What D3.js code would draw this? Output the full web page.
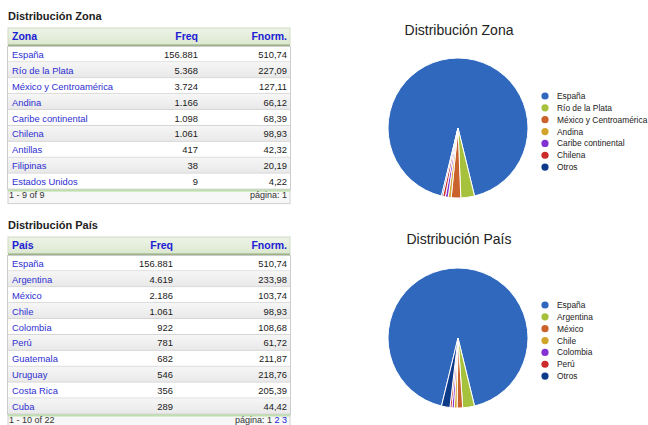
<!DOCTYPE html>
<html>
<head>
<meta charset="utf-8">
<script src="https://cdn.jsdelivr.net/npm/d3@7"></script>
<style>
  html, body { margin: 0; padding: 0; background: #fff; }
  svg { display: block; font-family: Arial, "Liberation Sans", Helvetica, sans-serif; }
</style>
</head>
<body>
<svg id="chart" width="648" height="425"></svg>
<script>
// ---- Distribución por zona ----
const zonaNames = ["España", "Río de la Plata", "México y Centroamérica", "Andina",
  "Caribe continental", "Chilena", "Antillas", "Filipinas", "Estados Unidos"];
const zonaFreq = [156881, 5368, 3724, 1166, 1098, 1061, 417, 38, 9];
const zonaFnorm = [510.74, 227.09, 127.11, 66.12, 68.39, 98.93, 42.32, 20.19, 4.22];

// ---- Distribución por país (primera página) ----
const paisNames = ["España", "Argentina", "México", "Chile", "Colombia", "Perú",
  "Guatemala", "Uruguay", "Costa Rica", "Cuba"];
const paisFreq = [156881, 4619, 2186, 1061, 922, 781, 682, 546, 356, 289];
const paisFnorm = [510.74, 233.98, 103.74, 98.93, 108.68, 61.72, 211.87, 218.76, 205.39, 44.42];

// ---- Sectores de las tartas ----
const zonaPieLabels = ["España", "Río de la Plata", "México y Centroamérica", "Andina",
  "Caribe continental", "Chilena", "Otros"];
const zonaPieValues = [156881, 5368, 3724, 1166, 1098, 1061, 464];
const paisPieLabels = ["España", "Argentina", "México", "Chile", "Colombia", "Perú", "Otros"];
const paisPieValues = [156881, 4619, 2186, 1061, 922, 781, 3312];
const pieColors = ["#3068bd", "#a6c23c", "#c9622c", "#d2a42c", "#8232d2", "#cc2b2b", "#0d3a89"];

const svg = d3.select("#chart");
const es = d3.formatLocale({ decimal: ",", thousands: ".", grouping: [3], currency: ["", "€"] });
const fmtInt = es.format(",d");
const fmtDec = es.format(",.2f");

const defs = svg.append("defs");
const hdrGrad = defs.append("linearGradient").attr("id", "hdr").attr("x1", 0).attr("x2", 0).attr("y1", 0).attr("y2", 1);
hdrGrad.append("stop").attr("offset", "0%").attr("stop-color", "#eef4e8");
hdrGrad.append("stop").attr("offset", "100%").attr("stop-color", "#dce8d0");
const oddGrad = defs.append("linearGradient").attr("id", "oddrow").attr("x1", 0).attr("x2", 0).attr("y1", 0).attr("y2", 1);
oddGrad.append("stop").attr("offset", "0%").attr("stop-color", "#f6f6f6");
oddGrad.append("stop").attr("offset", "100%").attr("stop-color", "#e8e8e8");

function drawTable(cfg) {
  const g = svg.append("g");
  const x0 = 8, x1 = 290;
  const rowH = 15.9;
  const hdrTop = cfg.top, hdrH = 16.5;
  const rowsTop = hdrTop + hdrH + 2;
  const y = d3.scaleBand().domain(d3.range(cfg.names.length))
    .range([rowsTop, rowsTop + rowH * cfg.names.length]);
  const rowsEnd = y.range()[1];

  // title
  g.append("text").attr("x", 8).attr("y", cfg.top - 8)
    .attr("font-size", 11).attr("font-weight", "bold").attr("fill", "#222")
    .text(cfg.title);

  // header
  g.append("rect").attr("x", x0).attr("y", hdrTop).attr("width", x1 - x0).attr("height", hdrH)
    .attr("fill", "url(#hdr)").attr("stroke", "#cfdcc4").attr("stroke-width", 1);
  g.append("rect").attr("x", x0).attr("y", hdrTop + hdrH).attr("width", x1 - x0).attr("height", 2)
    .attr("fill", "#9db489");
  const hy = hdrTop + hdrH / 2 + 4;
  const hdrStyle = s => s.attr("font-size", 10.5).attr("font-weight", "bold").attr("fill", "#2020d4");
  g.append("text").attr("x", 12).attr("y", hy).call(hdrStyle).text(cfg.headers[0]);
  g.append("text").attr("x", cfg.freqX).attr("y", hy).attr("text-anchor", "end").call(hdrStyle).text(cfg.headers[1]);
  g.append("text").attr("x", 287).attr("y", hy).attr("text-anchor", "end").call(hdrStyle).text(cfg.headers[2]);

  // rows
  const rows = g.selectAll("g.row").data(cfg.names.map((n, i) => ({ n, i })))
    .join("g").attr("class", "row").attr("transform", d => `translate(0,${y(d.i)})`);
  rows.append("rect").attr("x", x0).attr("y", 0).attr("width", x1 - x0).attr("height", rowH)
    .attr("fill", d => d.i % 2 ? "url(#oddrow)" : "#ffffff");
  rows.append("line").attr("x1", x0).attr("x2", x1).attr("y1", rowH - 0.5).attr("y2", rowH - 0.5)
    .attr("stroke", "#d6d6d6");
  const ty = rowH / 2 + 3.5;
  rows.append("text").attr("x", 12).attr("y", ty).attr("font-size", 9.4).attr("fill", "#2e2ed0")
    .text(d => d.n);
  rows.append("text").attr("x", cfg.freqX).attr("y", ty).attr("font-size", 9.4).attr("fill", "#1a1a1a")
    .attr("text-anchor", "end").text(d => fmtInt(cfg.freq[d.i]));
  rows.append("text").attr("x", 287).attr("y", ty).attr("font-size", 9.4).attr("fill", "#1a1a1a")
    .attr("text-anchor", "end").text(d => fmtDec(cfg.fnorm[d.i]));

  // side borders of the body
  g.append("rect").attr("x", x0 - 0.5).attr("y", rowsTop).attr("width", x1 - x0 + 1).attr("height", rowsEnd - rowsTop)
    .attr("fill", "none").attr("stroke", "#cccccc");

  // footer
  g.append("rect").attr("x", x0).attr("y", rowsEnd).attr("width", x1 - x0).attr("height", 14)
    .attr("fill", "#f7f7f7").attr("stroke", "#d0d0d0");
  g.append("rect").attr("x", x0).attr("y", rowsEnd).attr("width", x1 - x0).attr("height", 2)
    .attr("fill", "#bfe0ae");
  const fy = rowsEnd + 8.6;
  g.append("text").attr("x", 9).attr("y", fy).attr("font-size", 9).attr("fill", "#333")
    .text(cfg.footerLeft);
  const pg = g.append("text").attr("x", 287).attr("y", fy).attr("font-size", 9).attr("fill", "#333")
    .attr("text-anchor", "end");
  pg.append("tspan").text("página: ");
  cfg.pages.forEach((p, i) => {
    pg.append("tspan").attr("fill", i === 0 ? "#333" : "#2020d4").text((i ? " " : "") + p);
  });
}

drawTable({
  title: "Distribución Zona", top: 28, headers: ["Zona", "Freq", "Fnorm."],
  names: zonaNames, freq: zonaFreq, fnorm: zonaFnorm, freqX: 198,
  footerLeft: "1 - 9 of 9", pages: ["1"]
});
drawTable({
  title: "Distribución País", top: 237, headers: ["País", "Freq", "Fnorm."],
  names: paisNames, freq: paisFreq, fnorm: paisFnorm, freqX: 173,
  footerLeft: "1 - 10 of 22", pages: ["1", "2", "3"]
});

function drawPie(cfg) {
  const g = svg.append("g");
  const r = 70;
  const total = d3.sum(cfg.values);
  // first slice centred on 12 o'clock
  const a0 = cfg.values[0] / total * 2 * Math.PI;
  const pie = d3.pie().sort(null).startAngle(-a0 / 2).endAngle(2 * Math.PI - a0 / 2);
  const arc = d3.arc().innerRadius(0).outerRadius(r);
  const color = d3.scaleOrdinal().domain(cfg.labels).range(pieColors);

  g.append("text").attr("x", cfg.cx + 1).attr("y", cfg.titleY).attr("text-anchor", "middle")
    .attr("font-size", 14).attr("fill", "#222").text(cfg.title);

  g.append("g").attr("transform", `translate(${cfg.cx},${cfg.cy})`)
    .selectAll("path").data(pie(cfg.values))
    .join("path")
    .attr("d", arc)
    .attr("fill", (d, i) => color(cfg.labels[i]))
    .attr("stroke", "#ffffff").attr("stroke-width", 1).attr("stroke-linejoin", "round");

  const ly = d3.scalePoint().domain(cfg.labels).range([cfg.legendTop, cfg.legendTop + 11.85 * (cfg.labels.length - 1)]);
  const lg = g.append("g").selectAll("g").data(cfg.labels).join("g")
    .attr("transform", d => `translate(0,${ly(d)})`);
  lg.append("circle").attr("cx", 545).attr("cy", 0).attr("r", 3.6).attr("fill", d => color(d));
  lg.append("text").attr("x", 557).attr("y", 3).attr("font-size", 8.4).attr("fill", "#222").text(d => d);
}

drawPie({ title: "Distribución Zona", labels: zonaPieLabels, values: zonaPieValues,
  cx: 458, cy: 128, titleY: 35, legendTop: 96 });
drawPie({ title: "Distribución País", labels: paisPieLabels, values: paisPieValues,
  cx: 458, cy: 338, titleY: 244, legendTop: 305 });
</script>
</body>
</html>
